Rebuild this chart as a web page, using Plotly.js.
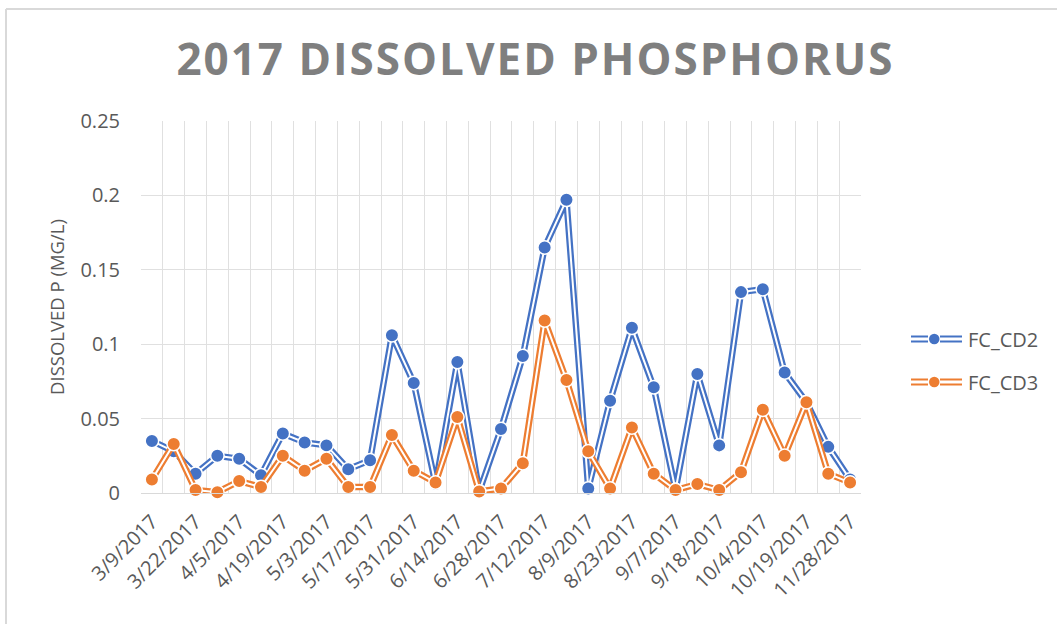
<!DOCTYPE html>
<html>
<head>
<meta charset="utf-8">
<script src="https://cdn.plot.ly/plotly-3.0.1.min.js"></script>
<style>html,body{margin:0;padding:0;background:#fff;}#chart{width:1057px;height:624px;}</style>
</head>
<body>
<div id="chart"></div>
<script>
const dates = ['3/9/2017','3/15/2017','3/22/2017','3/29/2017','4/5/2017','4/12/2017','4/19/2017','4/26/2017',
  '5/3/2017','5/10/2017','5/17/2017','5/24/2017','5/31/2017','6/7/2017','6/14/2017','6/21/2017',
  '6/28/2017','7/5/2017','7/12/2017','7/26/2017','8/9/2017','8/16/2017','8/23/2017','8/30/2017',
  '9/7/2017','9/12/2017','9/18/2017','9/26/2017','10/4/2017','10/11/2017','10/19/2017','11/8/2017','11/28/2017'];
const fcCD2 = [0.035,0.028,0.013,0.025,0.023,0.012,0.040,0.034,0.032,0.016,0.022,0.106,0.074,0.006,0.088,0.001,
  0.043,0.092,0.165,0.197,0.003,0.062,0.111,0.071,0.002,0.080,0.032,0.135,0.137,0.081,0.061,0.031,0.009];
const fcCD3 = [0.009,0.033,0.002,0.0005,0.008,0.004,0.025,0.015,0.023,0.004,0.004,0.039,0.015,0.007,0.051,0.001,
  0.003,0.020,0.116,0.076,0.028,0.003,0.044,0.013,0.002,0.006,0.002,0.014,0.056,0.025,0.061,0.013,0.007];
const seriesNames = ['FC_CD2','FC_CD3'];
const seriesColors = ['#4472C4','#ED7D31'];
const tickLabels = dates.map((d,i) => i % 2 === 0 ? d : '');

const W = 1057, H = 624, L = 141, R = 196, T = 121, B = 131;
const pw = W - L - R, ph = H - T - B;
const px = x => (x - L) / pw;
const py = y => (H - B - y) / ph;

const traces = [];
[fcCD2, fcCD3].forEach((vals, k) => {
  const c = seriesColors[k];
  traces.push({x: dates, y: vals, mode: 'lines', line: {color: c, width: 6.5}, cliponaxis: false, showlegend: false, hoverinfo: 'skip'});
  traces.push({x: dates, y: vals, mode: 'lines', line: {color: '#ffffff', width: 2}, cliponaxis: false, showlegend: false, hoverinfo: 'skip'});
  traces.push({x: dates, y: vals, mode: 'markers', name: seriesNames[k], cliponaxis: false, showlegend: false,
    marker: {color: c, size: 13.5, line: {color: '#ffffff', width: 1.5}}});
});

const shapes = [
  {type: 'line', xref: 'paper', yref: 'paper', x0: px(6), x1: px(6), y0: py(9), y1: py(640), line: {color: '#d9d9d9', width: 2}},
  {type: 'line', xref: 'paper', yref: 'paper', x0: px(6), x1: px(1070), y0: py(9), y1: py(9), line: {color: '#d9d9d9', width: 2}}
];
const annotations = [];
const legendY = [339, 382];
seriesNames.forEach((n, k) => {
  const c = seriesColors[k], yy = legendY[k];
  [[911, 928], [940, 962]].forEach(seg => {
    [-2.5, 2.5].forEach(off => {
      shapes.push({type: 'line', xref: 'paper', yref: 'paper', x0: px(seg[0]), x1: px(seg[1]), y0: py(yy + off), y1: py(yy + off), line: {color: c, width: 2}});
    });
  });
  shapes.push({type: 'circle', xref: 'paper', yref: 'paper', x0: px(929), x1: px(939.5), y0: py(yy - 5.25), y1: py(yy + 5.25), fillcolor: c, line: {color: c, width: 0}});
  annotations.push({xref: 'paper', yref: 'paper', x: px(966), y: py(yy), xanchor: 'left', yanchor: 'middle', showarrow: false,
    text: n, font: {family: 'Open Sans', size: 20, color: '#595959'}});
});

const layout = {
  width: W, height: H,
  margin: {l: L, r: R, t: T, b: B},
  paper_bgcolor: '#ffffff', plot_bgcolor: '#ffffff',
  showlegend: false,
  font: {family: 'Open Sans', color: '#595959'},
  title: {text: '2017 DISSOLVED PHOSPHORUS', font: {family: 'Open Sans', size: 44, color: '#7f7f7f', weight: 700},
    xref: 'container', x: 0.5066, yref: 'container', y: 1 - 60 / 624, xanchor: 'center', yanchor: 'middle'},
  xaxis: {type: 'category', range: [-0.5, dates.length - 0.5], tickvals: dates, ticktext: tickLabels, tickangle: -45,
    tickson: 'boundaries', showgrid: true, gridcolor: '#e0e0e0', gridwidth: 1, ticks: '', showline: true, linecolor: '#d9d9d9', linewidth: 1,
    tickfont: {family: 'Open Sans', size: 20, color: '#595959'}, ticklabelstandoff: 8, automargin: false, fixedrange: true},
  yaxis: {range: [0, 0.25], dtick: 0.05, tick0: 0, showgrid: true, gridcolor: '#e0e0e0', gridwidth: 1, zeroline: false,
    ticks: '', ticklabelstandoff: 20, showline: false,
    tickfont: {family: 'Open Sans', size: 20, color: '#595959'},
    title: {text: 'DISSOLVED P (MG/L)', font: {family: 'Open Sans', size: 18.5, color: '#595959'}, standoff: 10},
    automargin: false, fixedrange: true},
  shapes: shapes,
  annotations: annotations
};

Plotly.newPlot('chart', traces, layout, {displayModeBar: false, staticPlot: true}).then(() => {
  const t = document.querySelector('.gtitle');
  if (t) t.style.letterSpacing = '2px';
});
</script>
</body>
</html>
